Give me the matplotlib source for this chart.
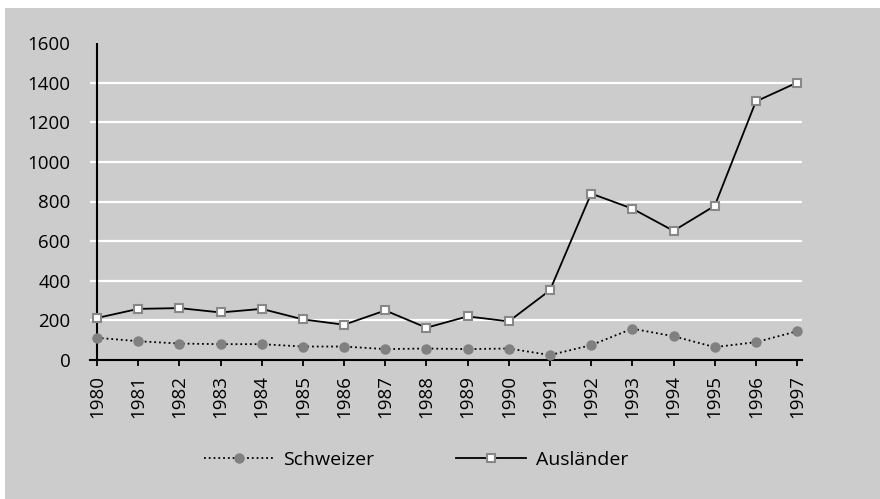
import matplotlib
matplotlib.use("Agg")
import matplotlib.pyplot as plt
from matplotlib.patches import Rectangle

years = list(range(1980, 1998))
schweizer = [112, 95, 83, 80, 80, 68, 68, 55, 58, 55, 58, 25, 75, 158, 120, 65, 90, 145]
auslaender = [212, 258, 262, 240, 258, 205, 178, 250, 163, 220, 195, 352, 840, 764, 652, 778, 1305, 1400]
yticks = [0, 200, 400, 600, 800, 1000, 1200, 1400, 1600]

plt.rcParams['font.family'] = ['Open Sans', 'DejaVu Sans']
plt.rcParams['xtick.labelsize'] = 13.5
plt.rcParams['ytick.labelsize'] = 13.5

fig = plt.figure(figsize=(8.8, 4.99), dpi=100, facecolor='white')
bg = fig.add_axes([0, 0, 1, 1], zorder=-10)
bg.axis('off')
bg.add_patch(Rectangle((5/880, 0), 1, 491/499, transform=bg.transAxes,
                       facecolor='#cccccc', edgecolor='none'))
ax = fig.add_axes([90/880, 1-360/499, 712/880, 317/499], zorder=1)
ax.set_facecolor('none')

for s in ['top', 'right', 'left']:
    ax.spines[s].set_visible(False)
ax.spines['bottom'].set_linewidth(1.5)
ax.axvline(years[0], color='black', lw=1.5, zorder=2.5)

ax.plot(years, schweizer, linestyle=':', color='black', lw=1.3, marker='o',
        markersize=6.5, markerfacecolor='#808080', markeredgecolor='#808080',
        label='Schweizer', zorder=3)
ax.plot(years, auslaender, linestyle='-', color='black', lw=1.3, marker='s',
        markersize=6, markerfacecolor='white', markeredgecolor='#888888',
        markeredgewidth=1.5, label='Ausländer', zorder=4)

ax.set_xlim(1979.83, 1997.12)
ax.set_ylim(0, 1600)
ax.set_xticks(years)
ax.set_xticklabels([str(y) for y in years], rotation=90, fontsize=13.5)
ax.set_yticks(yticks)
ax.set_yticklabels([str(v) for v in yticks], fontsize=13.5)
ax.tick_params(axis='y', length=0, pad=14)
ax.tick_params(axis='x', length=4, width=1.3, direction='out', pad=7)

ax.yaxis.grid(True, color='white', lw=1.6)
ax.set_axisbelow(True)
gl = ax.yaxis.get_gridlines()
gl[-1].set_visible(False)
gl[0].set_visible(False)

leg = fig.legend(loc='center', bbox_to_anchor=(416/880, 1-460/499), ncol=2,
                 frameon=False, fontsize=14, handlelength=3.6, columnspacing=4.2,
                 handletextpad=0.5)

fig.savefig('out.png', dpi=100, facecolor='white')
